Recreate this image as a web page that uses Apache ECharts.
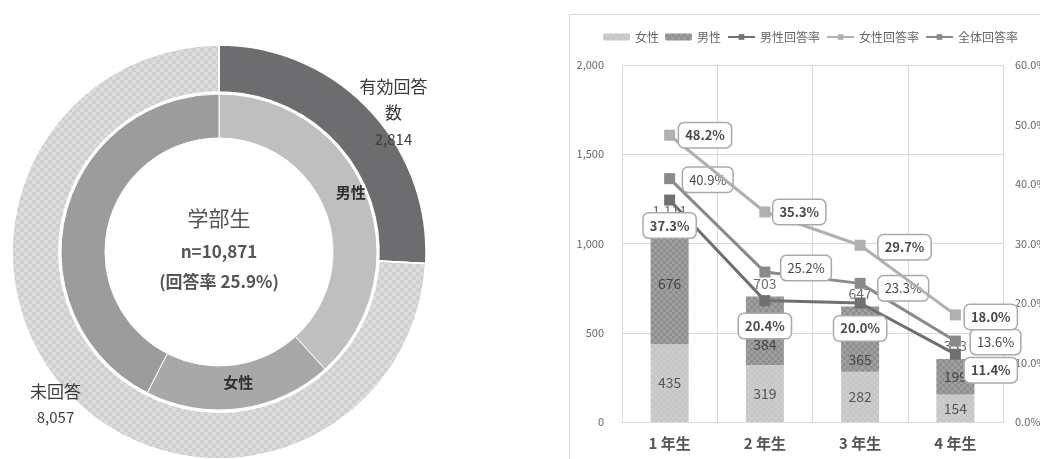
<!DOCTYPE html>
<html>
<head>
<meta charset="utf-8">
<script src="https://cdn.jsdelivr.net/npm/echarts@6/dist/echarts.min.js"></script>
<style>
  html, body { margin: 0; padding: 0; background: #fff; overflow: hidden; }
  #c { width: 1040px; height: 459px; }
</style>
</head>
<body>
<div id="c"></div>
<script>
// ---- donut: undergraduate responses ----
const ringNames = ['有効回答数', '未回答'];
const ringValues = [2814, 8057];
const innerNames = ['男性', '女性', ''];
const innerValues = [38.3, 19.2, 42.5];
const centerTitle = '学部生';

// ---- bars + lines: by school year ----
const grades = ['1 年生', '2 年生', '3 年生', '4 年生'];
const femaleCounts = [435, 319, 282, 154];
const maleCounts = [676, 384, 365, 199];
const totalCounts = [1111, 703, 647, 353];
const maleRate = [37.3, 20.4, 20.0, 11.4];
const femaleRate = [48.2, 35.3, 29.7, 18.0];
const allRate = [40.9, 25.2, 23.3, 13.6];
const countAxis = { min: 0, max: 2000, interval: 500 };
const rateAxis = { min: 0, max: 60, interval: 10 };

const FONT = "'Noto Sans CJK JP', 'Noto Sans', sans-serif";
const grid = '#d9d9d9';

const checker = (color, size) => ({
  symbol: 'rect', symbolSize: 1,
  dashArrayX: [[size, size], [0, size, size, 0]],
  dashArrayY: [size, 0],
  color: color
});

const total = ringValues.reduce((a, b) => a + b, 0);
const rate = (ringValues[0] / total * 100).toFixed(1);

// label offsets from the slice centre
const ringShift = [[39, -11], [-28, 24]];
const innerShift = [[2, -10], [1, -7], [0, 0]];
// male segment labels nudged below the rate boxes
const maleLabelShift = [0, 14, 21, 0];

// rate label boxes
const box = {
  backgroundColor: '#fff', borderColor: '#a9a9a9', borderWidth: 1.5, borderRadius: 5,
  padding: [4, 6], fontSize: 13, lineHeight: 16, color: '#4a4a4a', fontFamily: FONT
};
function rateData(values, specs) {
  return values.map((v, i) => ({
    value: v,
    label: Object.assign({
      show: true,
      position: specs[i][0],
      distance: specs[i][1],
      offset: specs[i][2],
      fontWeight: specs[i][3] ? 'bold' : 'normal',
      formatter: p => p.value.toFixed(1) + '%'
    }, box)
  }));
}

const chart = echarts.init(document.getElementById('c'), null, { renderer: 'canvas', width: 1040, height: 459 });
chart.setOption({
  animation: false,
  textStyle: { fontFamily: FONT },
  graphic: [
    { type: 'rect', shape: { x: 569.5, y: 14.5, width: 490, height: 470 },
      style: { fill: 'none', stroke: grid, lineWidth: 1 }, z: -1 },
    { type: 'text', z: 10,
      style: { text: centerTitle, x: 219, y: 218, textAlign: 'center', textVerticalAlign: 'middle',
               fontSize: 21, fill: '#555', fontFamily: FONT } },
    { type: 'text', z: 10,
      style: { text: 'n=' + total.toLocaleString('en-US'), x: 219, y: 252, textAlign: 'center', textVerticalAlign: 'middle',
               fontSize: 17, fontWeight: 'bold', fill: '#555', fontFamily: FONT } },
    { type: 'text', z: 10,
      style: { text: '(回答率 ' + rate + '%)', x: 219, y: 282, textAlign: 'center', textVerticalAlign: 'middle',
               fontSize: 17, fontWeight: 'bold', fill: '#555', fontFamily: FONT } }
  ],
  legend: {
    left: 598, top: 26, width: 440, itemWidth: 27, itemHeight: 7, itemGap: 6,
    data: ['女性', '男性', '男性回答率', '女性回答率', '全体回答率'],
    textStyle: { color: '#666', fontSize: 12, fontFamily: FONT }
  },
  grid: { left: 622, right: 37, top: 65, bottom: 37, containLabel: false, outerBoundsMode: 'none' },
  xAxis: {
    type: 'category', data: grades,
    axisLine: { lineStyle: { color: grid } },
    axisTick: { show: false },
    splitLine: { show: true, lineStyle: { color: grid } },
    axisLabel: { fontSize: 15, fontWeight: 'bold', color: '#555', margin: 14 }
  },
  yAxis: [
    { type: 'value', min: countAxis.min, max: countAxis.max, interval: countAxis.interval,
      axisLine: { show: true, lineStyle: { color: grid } },
      splitLine: { lineStyle: { color: grid } },
      axisLabel: { fontSize: 11, color: '#666', margin: 18, formatter: v => v.toLocaleString('en-US') } },
    { type: 'value', min: rateAxis.min, max: rateAxis.max, interval: rateAxis.interval,
      axisLine: { show: true, lineStyle: { color: grid } },
      splitLine: { show: false },
      axisLabel: { fontSize: 11, color: '#666', margin: 12, formatter: v => v.toFixed(1) + '%' } }
  ],
  series: [
    {
      type: 'pie', name: 'ring', center: [219, 252], radius: [160, 207],
      startAngle: 90, clockwise: true, silent: true,
      data: ringNames.map((n, i) => ({
        name: n, value: ringValues[i],
        itemStyle: i === 0 ? { color: '#6d6d6f' }
                           : { color: '#cfcfcf', decal: checker('rgba(255,255,255,0.28)', 4) }
      })),
      itemStyle: { borderColor: '#fff', borderWidth: 1.5 },
      label: {
        show: true, position: 'inside',
        formatter: p => {
          const n = p.name.length > 4 ? p.name.slice(0, 4) + '\n' + p.name.slice(4) : p.name;
          return '{n|' + n.split('\n').join('}\n{n|') + '}\n{v|' + p.value.toLocaleString('en-US') + '}';
        },
        rich: {
          n: { fontSize: 17, color: '#3a3a3a', lineHeight: 26, fontFamily: FONT },
          v: { fontSize: 15, color: '#3f3f3f', lineHeight: 26, fontFamily: FONT }
        }
      },
      labelLine: { show: false },
      labelLayout: p => ({ dx: ringShift[p.dataIndex][0], dy: ringShift[p.dataIndex][1] })
    },
    {
      type: 'pie', name: 'inner', center: [219, 252], radius: [114, 158],
      startAngle: 90, clockwise: true, silent: true,
      data: innerNames.map((n, i) => ({
        name: n, value: innerValues[i],
        itemStyle: { color: ['#bfbfbf', '#a8a8a8', '#9c9c9c'][i] },
        label: { show: n !== '' }
      })),
      itemStyle: { borderColor: '#fff', borderWidth: 1 },
      label: { position: 'inside', formatter: '{b}', fontSize: 15, fontWeight: 'bold', color: '#2f2f2f' },
      labelLine: { show: false },
      labelLayout: p => ({ dx: innerShift[p.dataIndex][0], dy: innerShift[p.dataIndex][1] })
    },
    {
      type: 'bar', name: '女性', stack: 'n', barWidth: 38, data: femaleCounts, z: 2,
      itemStyle: { color: '#c6c6c6', decal: checker('rgba(255,255,255,0.12)', 3) },
      label: { show: true, position: 'inside', fontSize: 14, color: '#555' }
    },
    {
      type: 'bar', name: '男性', stack: 'n', barWidth: 38, z: 2,
      data: maleCounts.map((v, i) => ({ value: v, label: { offset: [0, maleLabelShift[i]] } })),
      itemStyle: { color: '#8e8e8e', decal: checker('rgba(255,255,255,0.16)', 3) },
      label: { show: true, position: 'inside', fontSize: 14, color: '#444' }
    },
    {
      type: 'scatter', name: '合計', data: totalCounts, symbolSize: 0, z: 3,
      label: { show: true, position: 'top', distance: 6, fontSize: 14, color: '#4a4a4a',
               formatter: p => p.value.toLocaleString('en-US') }
    },
    {
      type: 'line', name: '男性回答率', yAxisIndex: 1, z: 5,
      symbol: 'rect', symbolSize: 11,
      itemStyle: { color: '#707070' }, lineStyle: { width: 3, color: '#707070' },
      data: rateData(maleRate, [
        ['bottom', 8, [0, 0], true], ['bottom', 8, [0, 0], true],
        ['bottom', 8, [0, 0], true], ['right', 4, [0, 16], true]])
    },
    {
      type: 'line', name: '女性回答率', yAxisIndex: 1, z: 6,
      symbol: 'rect', symbolSize: 11,
      itemStyle: { color: '#b0b0b0' }, lineStyle: { width: 3, color: '#b0b0b0' },
      data: rateData(femaleRate, [
        ['right', 4, [0, 0], true], ['right', 3, [0, 0], true],
        ['right', 13, [0, 2], true], ['right', 4, [0, 2], true]])
    },
    {
      type: 'line', name: '全体回答率', yAxisIndex: 1, z: 5,
      symbol: 'rect', symbolSize: 11,
      itemStyle: { color: '#8a8a8a' }, lineStyle: { width: 3, color: '#8a8a8a' },
      data: rateData(allRate, [
        ['right', 8, [0, 1], false], ['right', 11, [0, -4], false],
        ['right', 13, [0, 5], false], ['right', 10, [0, 1], false]])
    }
  ]
});
</script>
</body>
</html>
